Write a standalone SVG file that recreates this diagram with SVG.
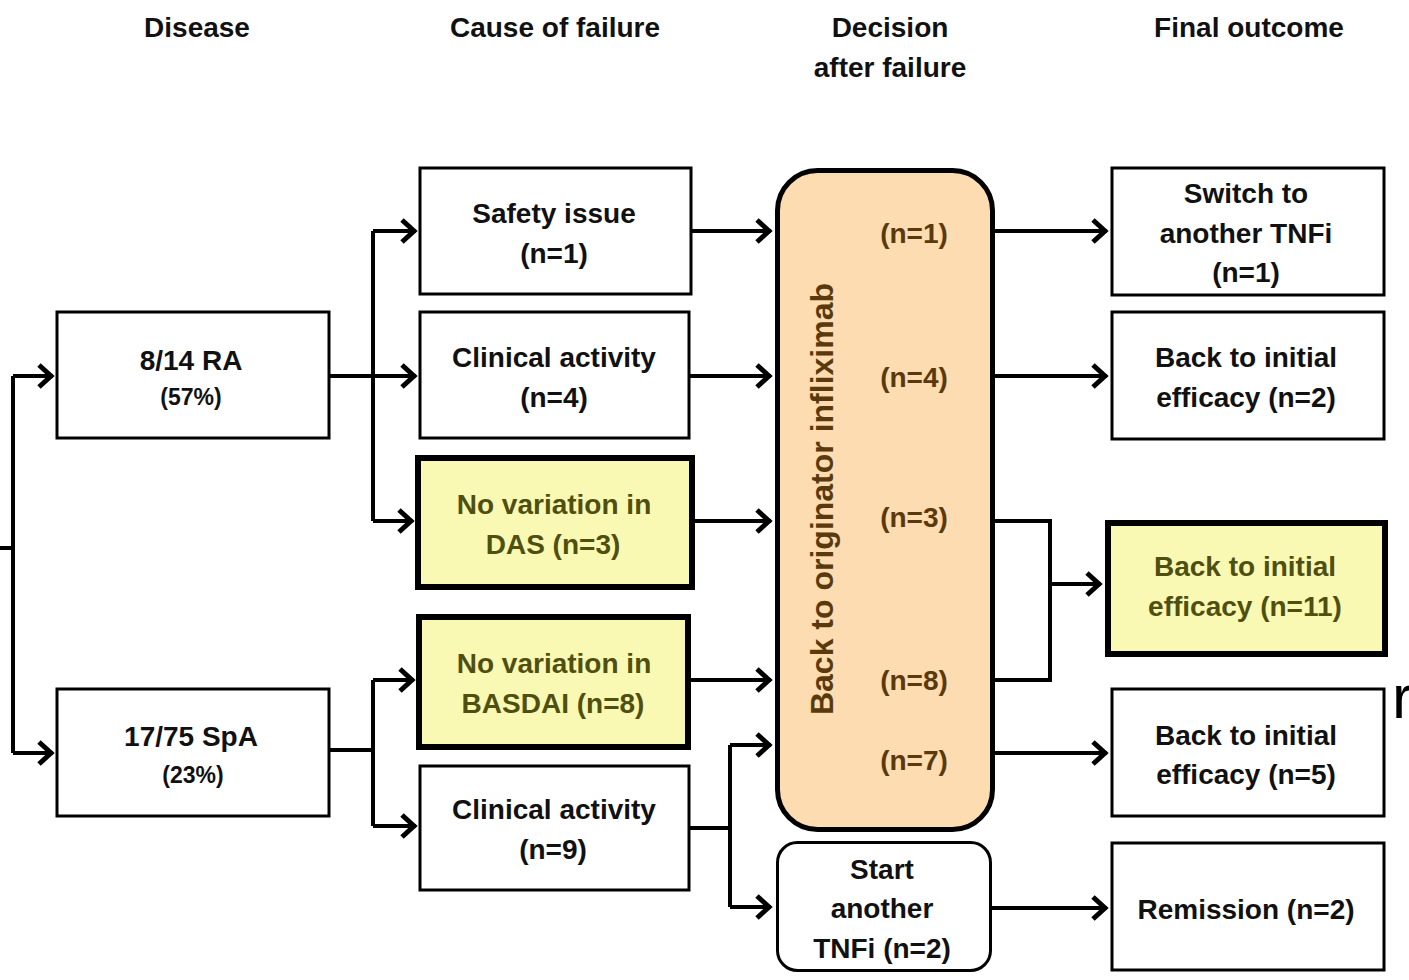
<svg xmlns="http://www.w3.org/2000/svg" width="1409" height="980" viewBox="0 0 1409 980">
<style>
text{font-family:"Liberation Sans",Arial,sans-serif;font-weight:bold;text-anchor:middle;dominant-baseline:central}
.t{font-size:28px;fill:#111}
.s{font-size:23px;fill:#111}
.h{font-size:28px;fill:#111}
.y{font-size:28px;fill:#4f4f10}
.d{font-size:28px;fill:#5a3a0c}
.box{fill:#fff;stroke:#000;stroke-width:3}
.ybox{fill:#faf9b4;stroke:#000;stroke-width:6}
.ln{fill:none;stroke:#000;stroke-width:4}
</style>
<defs>
<marker id="ar" markerUnits="userSpaceOnUse" markerWidth="30" markerHeight="30" refX="2" refY="0" viewBox="-20 -15 30 30" orient="auto" overflow="visible">
<path d="M-12,-11 L0,0 L-12,11" fill="none" stroke="#000" stroke-width="5" stroke-linejoin="miter"/>
</marker>
</defs>
<rect width="1409" height="980" fill="#fff"/>
<g id="headers">
<text class="h" x="197" y="27">Disease</text>
<text class="h" x="555" y="27">Cause of failure</text>
<text class="h" x="890" y="27">Decision</text>
<text class="h" x="890" y="67">after failure</text>
<text class="h" x="1249" y="27">Final outcome</text>
</g>
<g id="connectors">
<path class="ln" d="M0,548 H13 M13,376 V753"/>
<path class="ln" d="M13,376 H53" marker-end="url(#ar)"/>
<path class="ln" d="M13,753 H53" marker-end="url(#ar)"/>
<path class="ln" d="M329,376 H373 M373,231 V521"/>
<path class="ln" d="M373,231 H416" marker-end="url(#ar)"/>
<path class="ln" d="M373,376 H416" marker-end="url(#ar)"/>
<path class="ln" d="M373,521 H413" marker-end="url(#ar)"/>
<path class="ln" d="M329,750 H373 M373,680 V826"/>
<path class="ln" d="M373,680 H414" marker-end="url(#ar)"/>
<path class="ln" d="M373,826 H416" marker-end="url(#ar)"/>
<path class="ln" d="M691,231 H771" marker-end="url(#ar)"/>
<path class="ln" d="M689,376 H771" marker-end="url(#ar)"/>
<path class="ln" d="M693,521 H771" marker-end="url(#ar)"/>
<path class="ln" d="M689,680 H771" marker-end="url(#ar)"/>
<path class="ln" d="M689,828 H730 M730,745 V907"/>
<path class="ln" d="M730,745 H771" marker-end="url(#ar)"/>
<path class="ln" d="M730,907 H771" marker-end="url(#ar)"/>
<path class="ln" d="M993,231 H1107" marker-end="url(#ar)"/>
<path class="ln" d="M993,376 H1107" marker-end="url(#ar)"/>
<path class="ln" d="M993,521 H1050 V680 H993"/>
<path class="ln" d="M1050,584 H1101" marker-end="url(#ar)"/>
<path class="ln" d="M993,753 H1107" marker-end="url(#ar)"/>
<path class="ln" d="M991,908 H1107" marker-end="url(#ar)"/>
</g>
<g id="ra">
<rect class="box" x="57" y="312" width="272" height="126"/>
<text class="t" x="191" y="360">8/14 RA</text>
<text class="s" x="191" y="397">(57%)</text>
</g>
<g id="spa">
<rect class="box" x="57" y="689" width="272" height="127"/>
<text class="t" x="191" y="736">17/75 SpA</text>
<text class="s" x="193" y="775">(23%)</text>
</g>
<g id="safety">
<rect class="box" x="420" y="168" width="271" height="126"/>
<text class="t" x="554" y="213">Safety issue</text>
<text class="t" x="554" y="253">(n=1)</text>
</g>
<g id="clin4">
<rect class="box" x="420" y="312" width="269" height="126"/>
<text class="t" x="554" y="357">Clinical activity</text>
<text class="t" x="554" y="397">(n=4)</text>
</g>
<g id="das">
<rect class="ybox" x="418" y="458" width="274" height="129"/>
<text class="y" x="554" y="504">No variation in</text>
<text class="y" x="553" y="544">DAS (n=3)</text>
</g>
<g id="basdai">
<rect class="ybox" x="419" y="617" width="269" height="130"/>
<text class="y" x="554" y="663">No variation in</text>
<text class="y" x="553" y="703">BASDAI (n=8)</text>
</g>
<g id="clin9">
<rect class="box" x="420" y="766" width="269" height="124"/>
<text class="t" x="554" y="809">Clinical activity</text>
<text class="t" x="553" y="849">(n=9)</text>
</g>
<g id="decision">
<rect x="777.5" y="170.5" width="215" height="659" rx="40" fill="#fcdcb0" stroke="#000" stroke-width="5"/>
<text class="d" font-size="32" style="font-size:32px" transform="translate(822,499) rotate(-90)">Back to originator infliximab</text>
<text class="d" x="914" y="233">(n=1)</text>
<text class="d" x="914" y="377">(n=4)</text>
<text class="d" x="914" y="517">(n=3)</text>
<text class="d" x="914" y="680">(n=8)</text>
<text class="d" x="914" y="760">(n=7)</text>
</g>
<g id="start">
<rect x="777.5" y="842.5" width="213" height="128" rx="20" fill="#fff" stroke="#000" stroke-width="3"/>
<text class="t" x="882" y="869">Start</text>
<text class="t" x="882" y="908">another</text>
<text class="t" x="882" y="948">TNFi (n=2)</text>
</g>
<g id="switch">
<rect class="box" x="1112" y="168" width="272" height="127"/>
<text class="t" x="1246" y="193">Switch to</text>
<text class="t" x="1246" y="233">another TNFi</text>
<text class="t" x="1246" y="272">(n=1)</text>
</g>
<g id="back2">
<rect class="box" x="1112" y="312" width="272" height="127"/>
<text class="t" x="1246" y="357">Back to initial</text>
<text class="t" x="1246" y="397">efficacy (n=2)</text>
</g>
<g id="back11">
<rect class="ybox" x="1108" y="523" width="277" height="131"/>
<text class="y" x="1245" y="566">Back to initial</text>
<text class="y" x="1245" y="606">efficacy (n=11)</text>
</g>
<g id="back5">
<rect class="box" x="1112" y="689" width="272" height="127"/>
<text class="t" x="1246" y="735">Back to initial</text>
<text class="t" x="1246" y="774">efficacy (n=5)</text>
</g>
<g id="remission">
<rect class="box" x="1112" y="843" width="272" height="127"/>
<text class="t" x="1246" y="909">Remission (n=2)</text>
</g>
<text x="1392" y="718" style="font-size:62px;font-weight:normal;text-anchor:start;dominant-baseline:auto;fill:#000">r</text>
</svg>
